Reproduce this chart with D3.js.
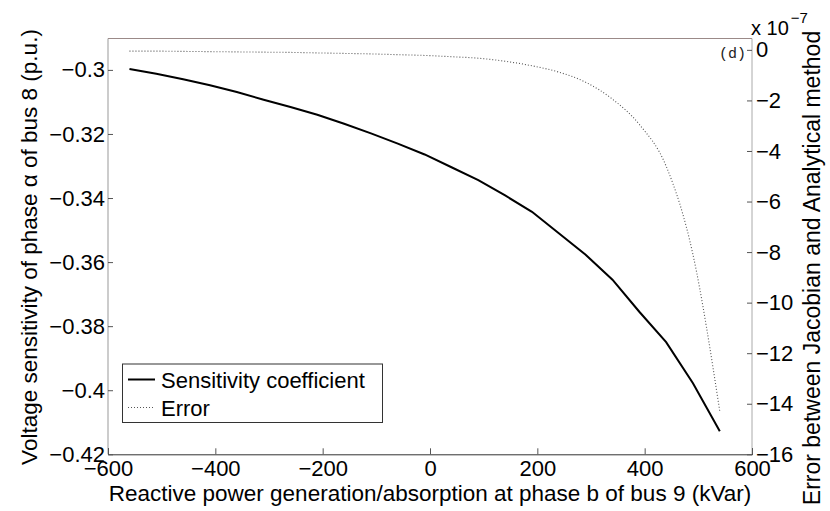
<!DOCTYPE html>
<html>
<head>
<meta charset="utf-8">
<script src="https://cdn.jsdelivr.net/npm/d3@7/dist/d3.min.js"></script>
<style>
  body { margin: 0; background: #fff; }
  svg { display: block; font-family: "Liberation Sans", Arial, Helvetica, sans-serif; }
</style>
</head>
<body>
<svg id="chart" width="830" height="511"></svg>
<script>
// ---- data ----
const reactivePower = [-560, -510, -460, -410, -360, -310, -260, -210, -160, -110, -60, -10,
                       40, 90, 140, 190, 240, 290, 340, 390, 440, 490, 540];
const sensitivity = [-0.2997, -0.3012, -0.3029, -0.3048, -0.3069, -0.3093, -0.3116, -0.3140,
                     -0.3168, -0.3198, -0.3230, -0.3264, -0.3304, -0.3344, -0.3392, -0.3443,
                     -0.3510, -0.3577, -0.3655, -0.3755, -0.3850, -0.3978, -0.4128];
// error in units of 1e-7
const errorVals = [-0.05, -0.05, -0.06, -0.07, -0.08, -0.09, -0.10, -0.12, -0.14, -0.16, -0.19,
                   -0.22, -0.27, -0.33, -0.45, -0.63, -0.88, -1.28, -1.95, -2.95, -4.6, -8.1, -14.3];
const xTicks = [-600, -400, -200, 0, 200, 400, 600];
const yLeftTicks = [-0.42, -0.4, -0.38, -0.36, -0.34, -0.32, -0.3];
const yRightTicks = [-16, -14, -12, -10, -8, -6, -4, -2, 0];
const legendLabels = ["Sensitivity coefficient", "Error"];

// ---- layout ----
const L = 108, R = 752, T = 38.5, B = 454.3;
const FS = 22, TS = 22.5;
const svg = d3.select("#chart");

const x = d3.scaleLinear().domain([-600, 600]).range([L, R]);
const yL = d3.scaleLinear().domain([-0.42, -0.2902]).range([B, T]);
const yR = d3.scaleLinear().domain([-16, 0.45]).range([B, T]);

const fmtMinus = s => s.replace(/^-/, "\u2212");
const fmtL = d => fmtMinus(String(+d.toFixed(2)));

// frame lines
svg.append("line").attr("x1", L).attr("x2", R).attr("y1", T).attr("y2", T)
  .attr("stroke", "#9b8a88").attr("stroke-width", 1);
svg.append("line").attr("x1", L).attr("x2", L).attr("y1", T).attr("y2", B)
  .attr("stroke", "#999").attr("stroke-width", 1);
svg.append("line").attr("x1", R).attr("x2", R).attr("y1", T).attr("y2", B)
  .attr("stroke", "#aaa").attr("stroke-width", 1);

// bottom axis (ticks inward)
const xAxis = d3.axisBottom(x).tickValues(xTicks).tickSize(-6).tickPadding(6)
  .tickFormat(d => fmtMinus(String(d)));
const gx = svg.append("g").attr("transform", `translate(0,${B})`).call(xAxis);
gx.select(".domain").attr("stroke", "#333");
gx.selectAll(".tick line").attr("stroke", "#555");
gx.selectAll(".tick text").attr("font-size", FS).attr("fill", "#000")
  .attr("font-family", "Liberation Sans, Arial, sans-serif");

// left axis
const yAxisL = d3.axisLeft(yL).tickValues(yLeftTicks).tickSize(-5).tickPadding(3).tickFormat(fmtL);
const gyl = svg.append("g").attr("transform", `translate(${L},0)`).call(yAxisL);
gyl.select(".domain").remove();
gyl.selectAll(".tick line").attr("stroke", "#555");
gyl.selectAll(".tick text").attr("font-size", FS).attr("fill", "#000")
  .attr("font-family", "Liberation Sans, Arial, sans-serif");

// right axis
const yAxisR = d3.axisRight(yR).tickValues(yRightTicks).tickSize(-5).tickPadding(4)
  .tickFormat(d => fmtMinus(String(d)));
const gyr = svg.append("g").attr("transform", `translate(${R},0)`).call(yAxisR);
gyr.select(".domain").remove();
gyr.selectAll(".tick line").attr("stroke", "#555");
gyr.selectAll(".tick text").attr("font-size", FS).attr("fill", "#000")
  .attr("font-family", "Liberation Sans, Arial, sans-serif");

// multiplier label
const mult = svg.append("text").attr("x", 751).attr("y", 35).attr("font-size", 20).attr("fill", "#000");
mult.append("tspan").text("x 10");
mult.append("tspan").attr("font-size", 15).attr("dy", -12).attr("dx", 2).text("\u22127");

// (d) annotation
svg.append("text").attr("x", 746).attr("y", 58).attr("text-anchor", "end")
  .attr("font-family", "Liberation Mono, DejaVu Sans Mono, monospace").attr("font-size", 15)
  .attr("fill", "#222").text("(d)");

// lines
const lineL = d3.line().x((d, i) => x(reactivePower[i])).y(d => yL(d));
const lineR = d3.line().x((d, i) => x(reactivePower[i])).y(d => yR(d)).curve(d3.curveMonotoneX);

svg.append("path").datum(errorVals).attr("d", lineR)
  .attr("fill", "none").attr("stroke", "#555").attr("stroke-width", 1.1)
  .attr("stroke-dasharray", "1,2");
svg.append("path").datum(sensitivity).attr("d", lineL)
  .attr("fill", "none").attr("stroke", "#000").attr("stroke-width", 2);

// axis titles
svg.append("text").attr("transform", `translate(37,247) rotate(-90)`)
  .attr("text-anchor", "middle").attr("font-size", TS).attr("fill", "#000")
  .text("Voltage sensitivity of phase  \u03b1 of bus 8 (p.u.)");
svg.append("text").attr("transform", `translate(820,268) rotate(-90)`)
  .attr("text-anchor", "middle").attr("font-size", 23).attr("fill", "#000")
  .text("Error between Jacobian and Analytical method");
svg.append("text").attr("x", 430).attr("y", 501)
  .attr("text-anchor", "middle").attr("font-size", TS).attr("fill", "#000")
  .text("Reactive power generation/absorption at phase b of bus 9 (kVar)");

// legend
const lg = svg.append("g");
lg.append("rect").attr("x", 122.5).attr("y", 364).attr("width", 260).attr("height", 58.5)
  .attr("fill", "#fff").attr("stroke", "#333").attr("stroke-width", 1);
const styles = [{ c: "#000", w: 2, d: null }, { c: "#555", w: 1.1, d: "1,2" }];
legendLabels.forEach((lab, i) => {
  const yy = 379.5 + i * 28;
  lg.append("line").attr("x1", 128).attr("x2", 155).attr("y1", yy).attr("y2", yy)
    .attr("stroke", styles[i].c).attr("stroke-width", styles[i].w)
    .attr("stroke-dasharray", styles[i].d);
  lg.append("text").attr("x", 161).attr("y", yy + 8).attr("font-size", FS).attr("fill", "#000").text(lab);
});
</script>
</body>
</html>
